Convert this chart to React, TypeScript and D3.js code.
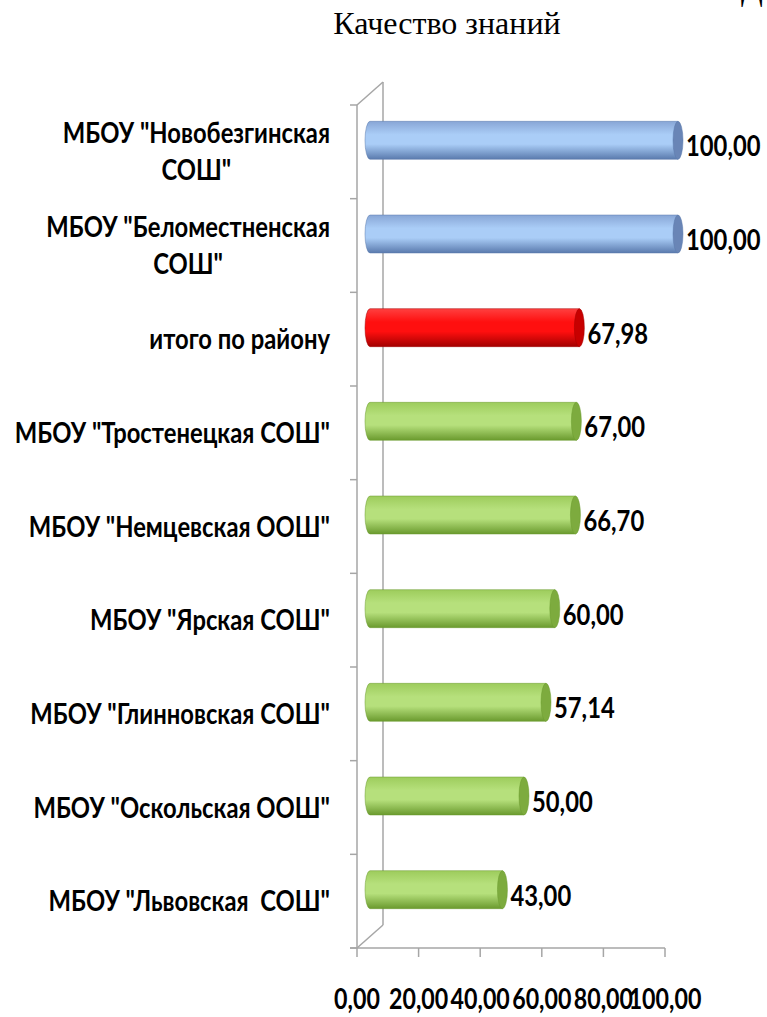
import React from "react";
import * as d3 from "d3";

const categories = [
  'МБОУ "Новобезгинская СОШ"',
  'МБОУ "Беломестненская СОШ"',
  "итого по району",
  'МБОУ "Тростенецкая СОШ"',
  'МБОУ "Немцевская ООШ"',
  'МБОУ "Ярская СОШ"',
  'МБОУ "Глинновская СОШ"',
  'МБОУ "Оскольская ООШ"',
  'МБОУ "Львовская  СОШ"',
];
const values = [100, 100, 67.98, 67, 66.7, 60, 57.14, 50, 43];
const groups = ["blue", "blue", "red", "green", "green", "green", "green", "green", "green"];
const xTicks = [0, 20, 40, 60, 80, 100];

const palette: Record<string, { top: string; mid: string; bottom: string; cap: string }> = {
  blue: { top: "#88a6d6", mid: "#aacdf7", bottom: "#5a7aad", cap: "#6985b6" },
  red: { top: "#ff4040", mid: "#ff0f0f", bottom: "#a30000", cap: "#c80000" },
  green: { top: "#9dcc5c", mid: "#b6e07c", bottom: "#6a9a2e", cap: "#7dab3e" },
};

const W = 767;
const H = 1017;
const depthX = 26;
const depthY = 23;
const labelFont = "Lato, 'Open Sans', sans-serif";

const fmt = (v: number) => v.toFixed(2).replace(".", ",");

function measure(text: string, size: number) {
  const ctx = document.createElement("canvas").getContext("2d");
  if (!ctx) return text.length * size * 0.5;
  ctx.font = `bold ${size}px Lato, 'Open Sans', sans-serif`;
  return ctx.measureText(text).width;
}

function wrap(label: string) {
  if (label.length <= 24) return [label];
  const i = label.lastIndexOf(" ");
  return [label.slice(0, i), label.slice(i + 1)];
}

// the original text is Calibri squashed sideways, so scale it narrower
const Txt = ({ x, y, anchor = "start", size, sx = 0.84, children }: any) => (
  <g transform={`translate(${x},${y}) scale(${sx},1)`}>
    <text
      textAnchor={anchor}
      fontFamily={labelFont}
      fontWeight="bold"
      fontSize={size}
      fill="#000"
      style={{ whiteSpace: "pre" }}
    >
      {children}
    </text>
  </g>
);

const App = () => {
  // front face of the 3D plot area
  const x = d3.scaleLinear().domain([0, 100]).range([357, 665]);
  const y = d3.scaleBand<string>().domain(categories).range([105, 948]);
  // bars sit half way into the depth
  const xb = d3.scaleLinear().domain([0, 100]).range([370, 678]);
  const barH = 38;
  const rx = 5;
  const labelSize = 28;
  const labelSx = 0.85;

  const boundaries = categories.map((c) => y(c) as number).concat([948]);

  return (
    <svg width={W} height={H} style={{ position: "absolute", left: 0, top: 0, background: "#fff" }}>
      <defs>
        {Object.keys(palette).map((k) => (
          <linearGradient key={k} id={"grad-" + k} x1="0" y1="0" x2="0" y2="1">
            <stop offset="0" stopColor={palette[k].top} />
            <stop offset="0.35" stopColor={palette[k].mid} />
            <stop offset="0.6" stopColor={palette[k].mid} />
            <stop offset="1" stopColor={palette[k].bottom} />
          </linearGradient>
        ))}
      </defs>

      <text x={741} y={0} fontFamily="'Liberation Serif', serif" fontSize={32}>Д</text>
      <text x={447} y={34} textAnchor="middle" fontFamily="'Liberation Serif', 'Times New Roman', serif" fontSize={32}>
        Качество знаний
      </text>

      {/* walls */}
      <g stroke="#a6a6a6" strokeWidth={1.5} fill="none">
        <line x1={357} y1={105} x2={357} y2={948} />
        <line x1={357 + depthX} y1={105 - depthY} x2={357 + depthX} y2={948 - depthY} />
        <line x1={357} y1={105} x2={357 + depthX} y2={105 - depthY} />
        <line x1={357} y1={948} x2={357 + depthX} y2={948 - depthY} />
        <line x1={350} y1={948} x2={665} y2={948} />
        {boundaries.map((b, i) => (
          <line key={"yt" + i} x1={350} y1={b} x2={357} y2={b} />
        ))}
        {xTicks.map((t) => (
          <line key={"xt" + t} x1={x(t)} y1={948} x2={x(t)} y2={957} />
        ))}
      </g>

      {/* cylinders */}
      {categories.map((c, i) => {
        const cy = (y(c) as number) + y.bandwidth() / 2 - depthY / 2;
        const x0 = xb(0);
        const x1 = xb(values[i]);
        const top = cy - barH / 2;
        const bot = cy + barH / 2;
        const d = `M${x0},${top} L${x1},${top} L${x1},${bot} L${x0},${bot} A${rx},${barH / 2} 0 0 1 ${x0},${top} Z`;
        const col = palette[groups[i]];
        return (
          <g key={c}>
            <path d={d} fill={`url(#grad-${groups[i]})`} stroke={col.bottom} strokeWidth={0.5} />
            <ellipse cx={x1} cy={cy} rx={rx} ry={barH / 2} fill={col.cap} stroke={col.bottom} strokeWidth={0.5} />
            <Txt x={x1 + rx + 3} y={cy + 16} size={28} sx={0.85}>
              {fmt(values[i])}
            </Txt>
          </g>
        );
      })}

      {/* category labels */}
      {categories.map((c) => {
        const mid = (y(c) as number) + y.bandwidth() / 2;
        const lines = wrap(c);
        if (lines.length === 1) {
          return (
            <Txt key={"l" + c} x={330} y={mid + 10} anchor="end" size={labelSize} sx={labelSx}>
              {c}
            </Txt>
          );
        }
        const w = measure(lines[0], labelSize) * labelSx;
        return (
          <g key={"l" + c}>
            <Txt x={330} y={mid - 9} anchor="end" size={labelSize} sx={labelSx}>{lines[0]}</Txt>
            <Txt x={330 - w / 2} y={mid + 28} anchor="middle" size={labelSize} sx={labelSx}>{lines[1]}</Txt>
          </g>
        );
      })}

      {/* x tick labels */}
      {xTicks.map((t) => (
        <Txt key={"xl" + t} x={x(t)} y={1009} anchor="middle" size={29} sx={0.8}>
          {fmt(t)}
        </Txt>
      ))}
    </svg>
  );
};

export default App;
